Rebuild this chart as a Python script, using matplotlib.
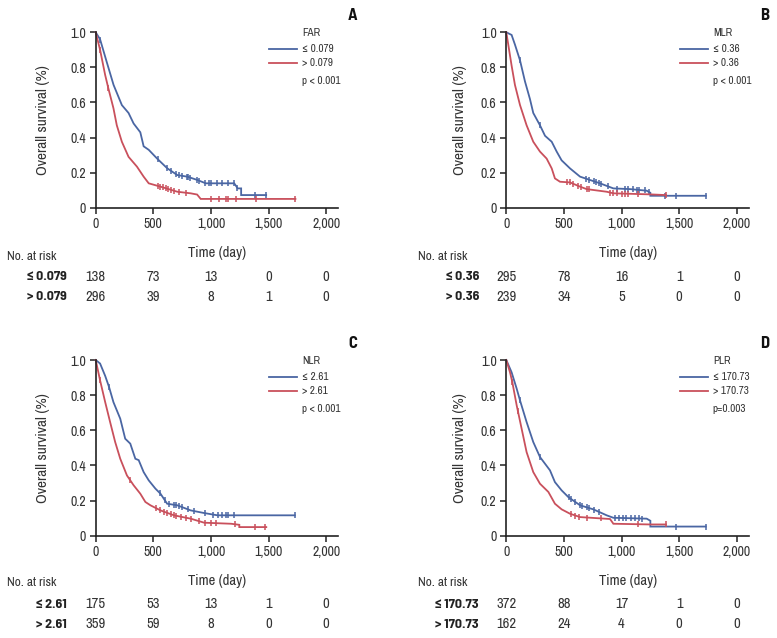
import numpy as np
import matplotlib
matplotlib.use("Agg")
import matplotlib.pyplot as plt
from matplotlib.lines import Line2D
from matplotlib.ticker import FuncFormatter
import matplotlib.transforms as mtrans

plt.rcParams['font.family'] = ['Archivo Narrow', 'DejaVu Sans']
BOLD = ['Barlow Semi Condensed', 'DejaVu Sans']

BLUE = '#4a66a3'
RED = '#c9505c'
INK = '#333333'

# survival curves: (time in days, survival)
far_low_t = [0, 38, 96, 155, 227, 285, 329, 387, 416, 460, 533, 620, 708, 795, 882, 955, 1202, 1232, 1262, 1262, 1479]
far_low_s = [1.0, 0.96, 0.83, 0.70, 0.585, 0.54, 0.48, 0.43, 0.35, 0.33, 0.28, 0.225, 0.186, 0.177, 0.158, 0.139, 0.139, 0.11, 0.11, 0.072, 0.072]
far_low_c = [40, 540, 620, 650, 700, 720, 750, 790, 800, 820, 880, 900, 950, 980, 1000, 1050, 1100, 1150, 1200, 1230, 1380, 1479]
far_high_t = [0, 38, 82, 110, 154, 183, 227, 285, 358, 416, 460, 562, 708, 824, 880, 911, 1733]
far_high_s = [1.0, 0.90, 0.757, 0.68, 0.567, 0.47, 0.376, 0.29, 0.234, 0.177, 0.139, 0.12, 0.091, 0.082, 0.075, 0.05, 0.05]
far_high_c = [38, 110, 540, 560, 580, 610, 630, 650, 680, 720, 780, 1000, 1070, 1130, 1150, 1220, 1390, 1733]

mlr_low_t = [0, 46, 75, 119, 162, 205, 234, 292, 336, 394, 437, 480, 553, 640, 726, 813, 929, 1073, 1218, 1250, 1250, 1730]
mlr_low_s = [1.0, 0.985, 0.93, 0.84, 0.72, 0.62, 0.54, 0.47, 0.41, 0.376, 0.32, 0.27, 0.224, 0.177, 0.158, 0.139, 0.11, 0.106, 0.097, 0.085, 0.068, 0.068]
mlr_low_c = [119, 292, 690, 720, 760, 780, 800, 820, 880, 960, 1030, 1060, 1100, 1130, 1150, 1200, 1240, 1380, 1470, 1730]
mlr_high_t = [0, 17, 46, 75, 119, 176, 234, 292, 350, 394, 422, 466, 553, 640, 697, 871, 929, 1247, 1385]
mlr_high_s = [1.0, 0.93, 0.81, 0.70, 0.585, 0.47, 0.376, 0.32, 0.28, 0.224, 0.167, 0.148, 0.144, 0.12, 0.106, 0.091, 0.082, 0.076, 0.072]
mlr_high_c = [530, 550, 580, 620, 650, 700, 720, 900, 930, 960, 1000, 1030, 1060, 1140, 1385]

nlr_low_t = [0, 38, 82, 116, 154, 213, 256, 300, 344, 373, 416, 460, 518, 562, 620, 708, 824, 941, 1057, 1727]
nlr_low_s = [1.0, 0.98, 0.91, 0.846, 0.76, 0.666, 0.552, 0.524, 0.438, 0.43, 0.362, 0.315, 0.268, 0.239, 0.182, 0.173, 0.144, 0.129, 0.116, 0.116]
nlr_low_c = [116, 560, 600, 640, 680, 700, 720, 750, 800, 850, 950, 1020, 1060, 1100, 1130, 1150, 1200, 1727]
nlr_high_t = [0, 38, 82, 125, 169, 213, 271, 329, 387, 431, 475, 562, 679, 824, 941, 1174, 1246, 1246, 1480]
nlr_high_s = [1.0, 0.884, 0.761, 0.647, 0.533, 0.438, 0.343, 0.287, 0.239, 0.192, 0.173, 0.144, 0.116, 0.097, 0.074, 0.068, 0.062, 0.049, 0.049]
nlr_high_c = [38, 300, 520, 560, 590, 620, 650, 680, 700, 740, 780, 830, 900, 950, 1000, 1040, 1210, 1380, 1470]

plr_low_t = [0, 46, 90, 119, 176, 234, 292, 379, 422, 480, 538, 640, 755, 871, 929, 1218, 1250, 1250, 1730]
plr_low_s = [1.0, 0.93, 0.837, 0.77, 0.647, 0.533, 0.448, 0.372, 0.305, 0.258, 0.22, 0.173, 0.15, 0.116, 0.102, 0.097, 0.085, 0.052, 0.052]
plr_low_c = [119, 292, 540, 560, 600, 640, 660, 700, 720, 760, 800, 940, 980, 1010, 1040, 1080, 1120, 1150, 1180, 1470, 1730]
plr_high_t = [0, 32, 52, 90, 133, 176, 234, 292, 365, 422, 480, 553, 640, 900, 929, 1250, 1385]
plr_high_s = [1.0, 0.93, 0.875, 0.742, 0.609, 0.476, 0.362, 0.296, 0.249, 0.182, 0.15, 0.125, 0.106, 0.095, 0.068, 0.064, 0.064]
plr_high_c = [52, 100, 560, 600, 630, 700, 820, 1140, 1385]

# number at risk at 0, 500, 1000, 1500, 2000 days
risk_times = [0, 500, 1000, 1500, 2000]
far_risk = [[138, 73, 13, 0, 0], [296, 39, 8, 1, 0]]
mlr_risk = [[295, 78, 16, 1, 0], [239, 34, 5, 0, 0]]
nlr_risk = [[175, 53, 13, 1, 0], [359, 59, 8, 0, 0]]
plr_risk = [[372, 88, 17, 1, 0], [162, 24, 4, 0, 0]]

panels = [
    dict(letter='A', var='FAR', labels=['\u2264 0.079', '> 0.079'], p='p < 0.001',
         curves=[(far_low_t, far_low_s, far_low_c), (far_high_t, far_high_s, far_high_c)], risk=far_risk),
    dict(letter='B', var='MLR', labels=['\u2264 0.36', '> 0.36'], p='p < 0.001',
         curves=[(mlr_low_t, mlr_low_s, mlr_low_c), (mlr_high_t, mlr_high_s, mlr_high_c)], risk=mlr_risk),
    dict(letter='C', var='NLR', labels=['\u2264 2.61', '> 2.61'], p='p < 0.001',
         curves=[(nlr_low_t, nlr_low_s, nlr_low_c), (nlr_high_t, nlr_high_s, nlr_high_c)], risk=nlr_risk),
    dict(letter='D', var='PLR', labels=['\u2264 170.73', '> 170.73'], p='p=0.003',
         curves=[(plr_low_t, plr_low_s, plr_low_c), (plr_high_t, plr_high_s, plr_high_c)], risk=plr_risk),
]

W, H = 777, 638
fig = plt.figure(figsize=(W / 100, H / 100), dpi=100)

# pixel layout per panel
lay = [
    dict(l=95.7, t=32.3, r=338, b=207.7, head_x=7, lab_x=67, rows_y=[256, 277, 297], ylab=-0.19, let_x=353, let_y=15),
    dict(l=506.3, t=32.3, r=749, b=207.7, head_x=418, lab_x=479, rows_y=[256, 277, 297], ylab=-0.163, let_x=765, let_y=15),
    dict(l=95.7, t=360, r=338, b=535.7, head_x=7, lab_x=67, rows_y=[583, 604, 624], ylab=-0.19, let_x=353, let_y=343),
    dict(l=506.3, t=360, r=749, b=535.7, head_x=418, lab_x=479, rows_y=[583, 604, 624], ylab=-0.163, let_x=765, let_y=343),
]

for pnl, L in zip(panels, lay):
    ax = fig.add_axes([L['l'] / W, 1 - L['b'] / H, (L['r'] - L['l']) / W, (L['b'] - L['t']) / H])
    xmax = 2000 * (L['r'] - L['l']) / 230.5
    for (t, s, c), col in zip(pnl['curves'], [BLUE, RED]):
        t = np.array(t, float)
        s = np.array(s, float)
        ax.plot(t, s, color=col, lw=1.3, clip_on=False, solid_joinstyle='miter')
        c = np.array(c, float)
        cs = np.interp(c, t, s)
        ax.plot(c, cs, ls='none', marker='|', ms=5, mew=1.1, color=col, clip_on=False)
    ax.set_xlim(0, xmax)
    ax.set_ylim(0, 1.0)
    ax.set_xticks(risk_times)
    ax.set_yticks([0, 0.2, 0.4, 0.6, 0.8, 1.0])
    ax.xaxis.set_major_formatter(FuncFormatter(lambda v, pos: f'{v:,.0f}'))
    ax.yaxis.set_major_formatter(FuncFormatter(lambda v, pos: '0' if v == 0 else f'{v:.1f}'))
    for sp in ['top', 'right']:
        ax.spines[sp].set_visible(False)
    for sp in ['left', 'bottom']:
        ax.spines[sp].set_linewidth(1.2)
        ax.spines[sp].set_color('#222222')
    ax.tick_params(direction='out', length=4, width=1.1, color='#222222', labelsize=10,
                   labelcolor=INK, pad=3)
    ax.set_ylabel('Overall survival (%)', fontsize=11, color=INK)
    ax.yaxis.set_label_coords(L['ylab'], 0.5)
    ax.set_xlabel('Time (day)', fontsize=10.5, color=INK)
    ax.xaxis.set_label_coords(0.5, -0.218)

    # legend drawn by hand
    tx = 0.851
    ax.text(tx, 0.996, pnl['var'], transform=ax.transAxes, fontsize=8, color=INK, va='center', ha='left')
    for k, (lab, col) in enumerate(zip(pnl['labels'], [BLUE, RED])):
        yy = 0.904 - k * 0.08
        ax.add_line(Line2D([0.715, 0.831], [yy, yy], transform=ax.transAxes, color=col, lw=1.3, clip_on=False))
        ax.text(tx, yy, lab, transform=ax.transAxes, fontsize=8, color=INK, va='center', ha='left')
    ax.text(tx, 0.72, pnl['p'], transform=ax.transAxes, fontsize=8, color=INK, va='center', ha='left')

    # panel letter
    fig.text(L['let_x'] / W, 1 - L['let_y'] / H, pnl['letter'], fontsize=12, fontweight='bold',
             family=BOLD, ha='center', va='center', color='#111111')

    # number at risk table
    hy, r1, r2 = L['rows_y']
    fig.text(L['head_x'] / W, 1 - hy / H, 'No. at risk', fontsize=9.5, color=INK, ha='left', va='center')
    trans = mtrans.blended_transform_factory(ax.transData, fig.transFigure)
    for ry, lab, vals in zip([r1, r2], pnl['labels'], pnl['risk']):
        fig.text(L['lab_x'] / W, 1 - ry / H, lab, fontsize=10, fontweight='bold', family=BOLD,
                 color='#222222', ha='right', va='center')
        for xt, v in zip(risk_times, vals):
            ax.text(xt, 1 - ry / H, str(v), transform=trans, fontsize=10.5, color=INK,
                    ha='center', va='center')

fig.savefig('out.png', dpi=100)
